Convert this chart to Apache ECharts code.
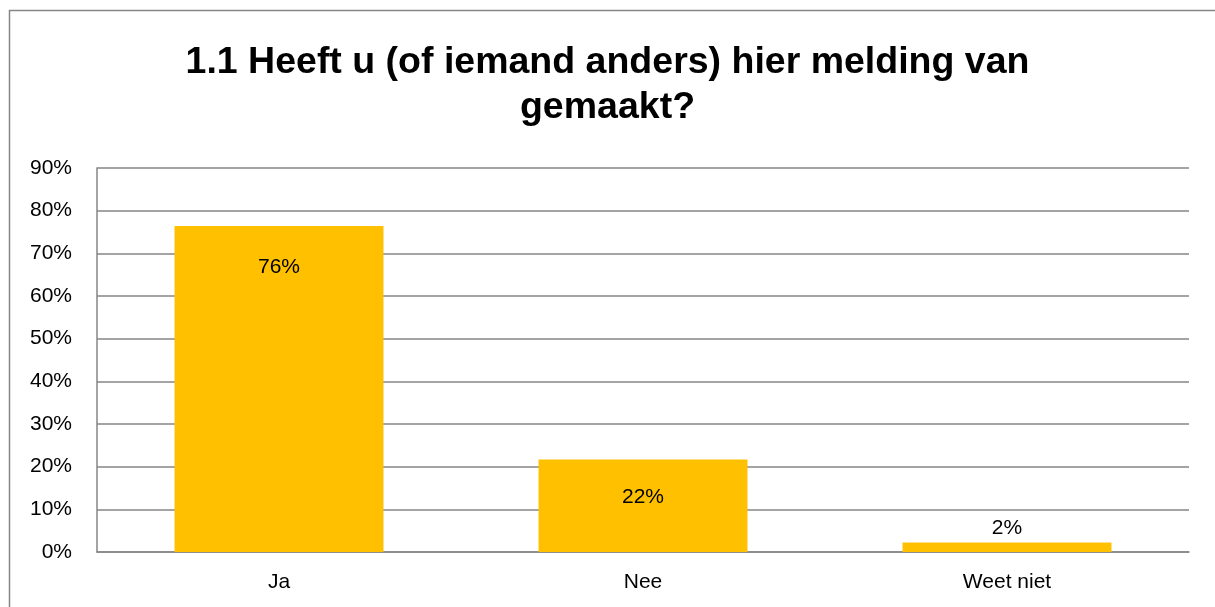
<!DOCTYPE html>
<html>
<head>
<meta charset="utf-8">
<script src="https://cdn.jsdelivr.net/npm/echarts@6/dist/echarts.min.js"></script>
<style>
html,body{margin:0;padding:0;background:#fff;}
#c{width:1215px;height:607px;}
</style>
</head>
<body>
<div id="c"></div>
<script>
const titleText = "1.1 Heeft u (of iemand anders) hier melding van\ngemaakt?";
const categories = ["Ja", "Nee", "Weet niet"];
const values = [0.764, 0.217, 0.022];
const yTicks = [0, 0.1, 0.2, 0.3, 0.4, 0.5, 0.6, 0.7, 0.8, 0.9];

const chart = echarts.init(document.getElementById('c'), null, {renderer: 'canvas'});
const FONT = "'Liberation Sans', 'Open Sans', sans-serif";

const labelPos = ['insideTop', 'insideTop', 'top'];
const labelDist = [31, 27, 4];

chart.setOption({
  animation: false,
  backgroundColor: '#ffffff',
  graphic: [{
    type: 'rect',
    shape: {x: 9.5, y: 10.5, width: 1300, height: 700},
    style: {fill: 'none', stroke: '#868686', lineWidth: 1.5},
    silent: true
  }],
  title: {
    text: titleText,
    left: 'center',
    top: 35,
    textStyle: {
      fontFamily: FONT,
      fontWeight: 'bold',
      fontSize: 37.5,
      lineHeight: 45,
      color: '#000000'
    }
  },
  grid: {left: 97, right: 26, top: 168, bottom: 55, containLabel: false},
  xAxis: {
    type: 'category',
    data: categories,
    axisLine: {show: true, lineStyle: {color: '#868686', width: 1.5}},
    axisTick: {show: false},
    axisLabel: {fontFamily: FONT, fontSize: 21, color: '#000', margin: 20}
  },
  yAxis: {
    type: 'value',
    min: 0,
    max: 0.9,
    interval: 0.1,
    axisLine: {show: true, lineStyle: {color: '#868686', width: 1.5}},
    axisTick: {show: false},
    splitLine: {show: true, lineStyle: {color: '#868686', width: 1.5}},
    axisLabel: {
      fontFamily: FONT, fontSize: 21, color: '#000', margin: 25,
      formatter: function (v) {
        const t = yTicks.find(x => Math.abs(x - v) < 1e-9);
        return Math.round((t !== undefined ? t : v) * 100) + '%';
      }
    }
  },
  series: [{
    type: 'bar',
    barWidth: '57.4%',
    data: values.map((v, i) => ({
      value: v,
      label: {
        show: true,
        position: labelPos[i],
        distance: labelDist[i],
        fontFamily: FONT,
        fontSize: 21,
        color: '#000',
        formatter: function (p) { return Math.round(p.value * 100) + '%'; }
      }
    })),
    itemStyle: {color: '#FFC000'}
  }]
});
</script>
</body>
</html>
